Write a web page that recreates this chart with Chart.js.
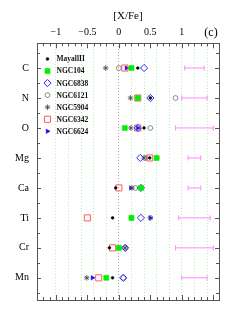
<!DOCTYPE html>
<html>
<head>
<meta charset="utf-8">
<script src="https://cdn.jsdelivr.net/npm/chart.js@4/dist/chart.umd.min.js"></script>
<style>
  html, body { margin: 0; padding: 0; background: #fff; }
  #chart { display: block; }
</style>
</head>
<body>
<canvas id="chart" width="242" height="314"></canvas>
<script>
// rows from top to bottom, y = 1..8
const elements = ["C", "N", "O", "Mg", "Ca", "Ti", "Cr", "Mn"];

// [X/Fe] per cluster, one value per element
const mayallII = [0.30, 0.50, 0.40, 0.49, -0.05, -0.10, -0.15, -0.10];
const ngc104 = [0.20, 0.30, 0.095, 0.60, 0.35, 0.20, 0.00, -0.20];
const ngc6838 = [0.40, 0.50, 0.30, 0.34, 0.35, 0.35, 0.10, 0.07];
const ngc6121 = [0.00, 0.90, 0.50, 0.42, 0.26, 0.50, 0.10, 0.07];
const ngc5904 = [-0.21, 0.185, 0.19, 0.40, 0.21, 0.20, 0.10, -0.51];
const ngc6342 = [0.095, 0.30, 0.30, 0.49, 0.00, -0.50, -0.10, -0.32];
const ngc6624 = [0.12, 0.30, 0.30, 0.60, 0.19, 0.50, 0.00, -0.42];

// typical error bars drawn at the right
const errCenter = [1.2, 1.2, 1.2, 1.2, 1.2, 1.2, 1.2, 1.2];
const errHalf = [0.155, 0.20, 0.30, 0.10, 0.10, 0.25, 0.30, 0.20];

const xTickLabels = [-1, -0.5, 0, 0.5, 1];

const SERIF = "'Liberation Serif', 'DejaVu Serif', serif";

const series = [
  { label: "MayallII", values: mayallII, style: "circle", radius: 1.4, fill: "#000", stroke: "#000", width: 0.5 },
  { label: "NGC104", values: ngc104, style: "rect", radius: 3.6, fill: "#00ee00", stroke: "#00ee00", width: 0.5 },
  { label: "NGC6838", values: ngc6838, style: "rectRot", radius: 3.6, fill: "rgba(0,0,0,0)", stroke: "#2a2aff", width: 1 },
  { label: "NGC6121", values: ngc6121, style: "circle", radius: 2.4, fill: "rgba(0,0,0,0)", stroke: "#707070", width: 0.8 },
  { label: "NGC5904", values: ngc5904, style: "star", radius: 2.8, fill: "rgba(0,0,0,0)", stroke: "#454545", width: 0.8 },
  { label: "NGC6342", values: ngc6342, style: "rect", radius: 4.3, fill: "rgba(0,0,0,0)", stroke: "#ff5a5a", width: 1 },
  { label: "NGC6624", values: ngc6624, style: "triangle", radius: 2.6, rotation: 90, fill: "#1010ff", stroke: "#1010ff", width: 0.5 },
];

const datasets = series.map((s) => ({
  label: s.label,
  data: s.values.map((v, i) => ({ x: v, y: i + 1 })),
  pointStyle: s.style,
  pointRadius: s.radius,
  pointRotation: s.rotation || 0,
  backgroundColor: s.fill,
  borderColor: s.stroke,
  borderWidth: s.width,
  showLine: false,
}));

errCenter.forEach((c, i) => {
  datasets.push({
    label: "err" + i,
    data: [{ x: c - errHalf[i], y: i + 1 }, { x: c + errHalf[i], y: i + 1 }],
    showLine: true,
    borderColor: "#ff88ff",
    backgroundColor: "#ff88ff",
    borderWidth: 1,
    pointStyle: "line",
    pointRotation: 90,
    pointRadius: 2.5,
    pointBorderColor: "#ff88ff",
    pointBorderWidth: 1,
  });
});

const frameAndTicks = {
  id: "frameAndTicks",
  afterDraw(chart) {
    const { ctx, chartArea: a, scales } = chart;
    const xs = scales.x;
    const ys = scales.y;
    ctx.save();
    ctx.strokeStyle = "#555";
    ctx.lineWidth = 1;
    ctx.strokeRect(Math.round(a.left) + 0.5, Math.round(a.top) + 0.5,
      Math.round(a.right - a.left), Math.round(a.bottom - a.top));

    ctx.beginPath();
    for (let k = -13; k <= 15; k++) {
      const px = Math.round(xs.getPixelForValue(k / 10)) + 0.5;
      const len = k % 5 === 0 ? 5 : 3;
      ctx.moveTo(px, a.top);
      ctx.lineTo(px, a.top + len);
      ctx.moveTo(px, a.bottom);
      ctx.lineTo(px, a.bottom - len);
    }
    for (let k = 1; k <= 17; k++) {
      const v = k / 2;
      const py = Math.round(ys.getPixelForValue(v)) + 0.5;
      const len = k % 2 === 0 ? 4 : 3;
      ctx.moveTo(a.left, py);
      ctx.lineTo(a.left + len, py);
      ctx.moveTo(a.right, py);
      ctx.lineTo(a.right - len, py);
    }
    ctx.stroke();

    ctx.fillStyle = "#000";
    ctx.font = "12px " + SERIF;
    ctx.textAlign = "center";
    ctx.textBaseline = "middle";
    ctx.fillText("(c)", 211, 33);

    // legend
    ctx.font = "bold 7.5px " + SERIF;
    ctx.textAlign = "left";
    series.forEach((s, i) => {
      const y = 59 + i * 12.05;
      ctx.fillStyle = s.fill;
      ctx.strokeStyle = s.stroke;
      ctx.lineWidth = s.width;
      Chart.helpers.drawPoint(ctx, {
        pointStyle: s.style,
        radius: s.radius,
        rotation: s.rotation || 0,
        borderWidth: s.width,
      }, 47.5, y);
      ctx.fillStyle = "#111";
      ctx.fillText(s.label, 56.5, y + 0.5);
    });
    ctx.restore();
  },
};

new Chart(document.getElementById("chart"), {
  type: "scatter",
  data: { datasets },
  options: {
    responsive: false,
    animation: false,
    devicePixelRatio: 1,
    layout: { padding: { left: 0, top: 0, right: 23, bottom: 11 } },
    plugins: { legend: { display: false }, tooltip: { enabled: false } },
    scales: {
      x: {
        type: "linear",
        position: "top",
        min: -1.3,
        max: 1.59,
        afterBuildTicks(scale) {
          const ticks = [];
          for (let k = -13; k <= 15; k++) ticks.push({ value: k / 10 });
          scale.ticks = ticks;
        },
        afterFit(scale) { scale.height = 43.3; },
        ticks: {
          autoSkip: false,
          maxRotation: 0,
          padding: 5,
          color: "#000",
          font: { family: SERIF, size: 10 },
          callback(value) {
            const k = Math.round(value * 10);
            if (k % 5 !== 0 || !xTickLabels.includes(k / 10)) return "";
            const v = k / 10;
            return v < 0 ? "\u2212" + Math.abs(v) : String(v);
          },
        },
        grid: {
          drawTicks: false,
          lineWidth: 1,
          color(ctx) {
            const k = Math.round(ctx.tick.value * 10);
            if (k === 0) return "#a8a8a8";
            if (k % 2 === 0 && k >= -10 && k <= 14) return "#b6eeb6";
            return "rgba(0,0,0,0)";
          },
        },
        border: { display: false, dash: [1, 2] },
        title: {
          display: true,
          text: "[X/Fe]",
          color: "#000",
          font: { family: SERIF, size: 11 },
          padding: { top: 10, bottom: 0 },
        },
      },
      y: {
        type: "linear",
        reverse: true,
        min: 0.175,
        max: 8.74,
        afterBuildTicks(scale) {
          scale.ticks = elements.map((_, i) => ({ value: i + 1 }));
        },
        afterFit(scale) { scale.width = 37; },
        ticks: {
          autoSkip: false,
          padding: 8,
          color: "#000",
          font: { family: SERIF, size: 10 },
          callback(value) { return elements[Math.round(value) - 1] || ""; },
        },
        grid: { display: false, drawTicks: false },
        border: { display: false },
      },
    },
  },
  plugins: [frameAndTicks],
});
</script>
</body>
</html>
